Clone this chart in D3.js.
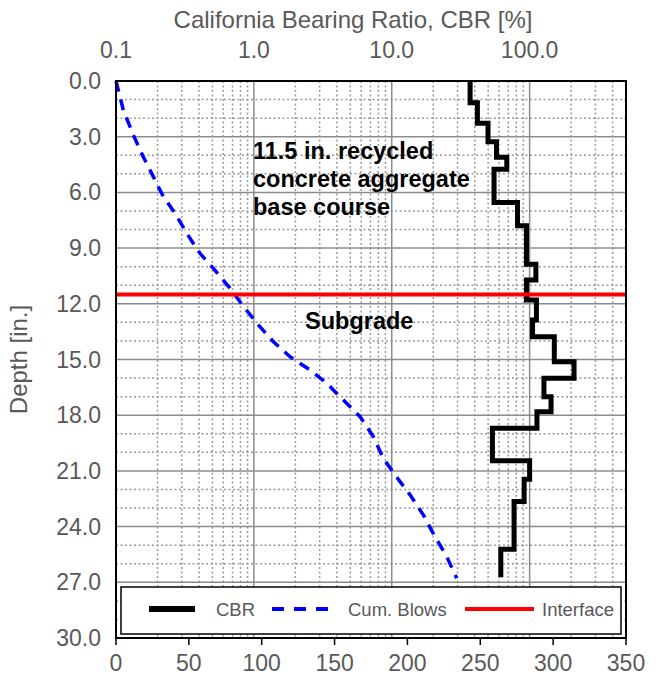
<!DOCTYPE html>
<html>
<head>
<meta charset="utf-8">
<script src="https://cdn.jsdelivr.net/npm/d3@7"></script>
<style>
  body { margin: 0; background: #fff; }
  text { font-family: "Liberation Sans", Arial, sans-serif; }
</style>
</head>
<body>
<svg id="chart" width="658" height="682"></svg>
<script>
// CBR profile: one value per penetration layer (top / bottom depth in inches)
var layerTop    = [0, 1.17, 2.28, 3.27, 4.11, 4.75, 6.55, 7.79, 9.87, 10.72, 11.79, 12.87, 13.77, 15.12, 16.01, 17.0, 17.81, 18.70, 20.45, 21.45, 22.65, 25.22];
var layerBottom = [1.17, 2.28, 3.27, 4.11, 4.75, 6.55, 7.79, 9.87, 10.72, 11.79, 12.87, 13.77, 15.12, 16.01, 17.0, 17.81, 18.70, 20.45, 21.45, 22.65, 25.22, 26.73];
var cbrValues   = [37, 41.8, 49.9, 57.5, 68.3, 55.2, 81.7, 94.9, 111, 94.9, 112, 105, 151, 210, 127, 143, 113, 53.7, 100, 91.2, 77.1, 61.8];

// cumulative blows vs depth
var blowDepths = [0, 1.56, 2.91, 4.08, 5.15, 6.23, 7.12, 8.2, 9.28, 10.09, 11.16, 12.24, 13.14, 14.04, 14.85, 15.56, 16.28, 17.36, 18.08, 19.15, 20.32, 21.22, 22.29, 23.37, 24.54, 25.62, 26.78];
var blowCounts = [0, 5.0, 11.9, 18.7, 25.6, 32.5, 40.5, 48.5, 57.6, 66.8, 78.2, 88.5, 97.7, 108, 119.4, 133.1, 144.6, 158.3, 167.5, 176.6, 183.4, 191.5, 201.8, 210.9, 218.9, 227, 233.8];

var interfaceDepth = 11.5;

var depthTicks = [0, 3, 6, 9, 12, 15, 18, 21, 24, 27, 30];
var blowTicks = [0, 50, 100, 150, 200, 250, 300, 350];
var cbrTicks = [0.1, 1, 10, 100];
var legendLabels = ['CBR', 'Cum. Blows', 'Interface'];

var svg = d3.select('#chart');
var plotL = 116, plotR = 626, plotT = 81, plotB = 638;
var grey = '#595959';

var y = d3.scaleLinear().domain([0, 30]).range([plotT, plotB]);
var xBlows = d3.scaleLinear().domain([0, 350]).range([plotL, plotR]);
var xCbr = d3.scaleLog().domain([0.1, 500]).range([plotL, plotR]);

// minor grid
var minorCbr = [];
[0.1, 1, 10, 100].forEach(function (dec) {
    for (var k = 2; k <= 9; k++) {
        if (dec * k < 500) minorCbr.push(dec * k);
    }
});
var minorDepth = d3.range(1, 30).filter(function (d) { return d % 3 !== 0; });

var grid = svg.append('g');
grid.selectAll('.vminor').data(minorCbr).enter().append('line')
    .attr('x1', function (d) { return xCbr(d); }).attr('x2', function (d) { return xCbr(d); })
    .attr('y1', plotT).attr('y2', plotB)
    .attr('stroke', '#9a9a9a').attr('stroke-width', 1.5).attr('stroke-dasharray', '2,2.5');
grid.selectAll('.hminor').data(minorDepth).enter().append('line')
    .attr('y1', function (d) { return y(d); }).attr('y2', function (d) { return y(d); })
    .attr('x1', plotL).attr('x2', plotR)
    .attr('stroke', '#9a9a9a').attr('stroke-width', 1.5).attr('stroke-dasharray', '2,2.5');
grid.selectAll('.vmajor').data([1, 10, 100]).enter().append('line')
    .attr('x1', function (d) { return xCbr(d); }).attr('x2', function (d) { return xCbr(d); })
    .attr('y1', plotT).attr('y2', plotB)
    .attr('stroke', '#8c8c8c').attr('stroke-width', 1.5);
grid.selectAll('.hmajor').data(depthTicks.slice(1, -1)).enter().append('line')
    .attr('y1', function (d) { return y(d); }).attr('y2', function (d) { return y(d); })
    .attr('x1', plotL).attr('x2', plotR)
    .attr('stroke', '#8c8c8c').attr('stroke-width', 1.5);

// cumulative blows
var blowPts = blowDepths.map(function (d, i) { return [blowCounts[i], d]; });
svg.append('path')
    .attr('d', d3.line().x(function (p) { return xBlows(p[0]); }).y(function (p) { return y(p[1]); })(blowPts))
    .attr('fill', 'none').attr('stroke', '#0000ff').attr('stroke-width', 3.5)
    .attr('stroke-dasharray', '11,8');

// CBR step profile
var cbrPts = [];
cbrValues.forEach(function (v, i) {
    cbrPts.push([v, layerTop[i]]);
    cbrPts.push([v, layerBottom[i]]);
});
svg.append('path')
    .attr('d', d3.line().x(function (p) { return xCbr(p[0]); }).y(function (p) { return y(p[1]); })(cbrPts))
    .attr('fill', 'none').attr('stroke', '#000').attr('stroke-width', 5)
    .attr('stroke-linejoin', 'miter');

// interface
svg.append('line')
    .attr('x1', plotL).attr('x2', plotR)
    .attr('y1', y(interfaceDepth)).attr('y2', y(interfaceDepth))
    .attr('stroke', '#ff0000').attr('stroke-width', 4);

// plot border
svg.append('rect')
    .attr('x', plotL).attr('y', plotT).attr('width', plotR - plotL).attr('height', plotB - plotT)
    .attr('fill', 'none').attr('stroke', '#000').attr('stroke-width', 2);

// bottom axis ticks + labels
svg.selectAll('.bt').data(blowTicks).enter().append('line')
    .attr('x1', function (d) { return xBlows(d); }).attr('x2', function (d) { return xBlows(d); })
    .attr('y1', plotB).attr('y2', plotB + 7)
    .attr('stroke', '#000').attr('stroke-width', 1.5);
svg.selectAll('.bl').data(blowTicks).enter().append('text')
    .attr('x', function (d) { return xBlows(d); }).attr('y', 671)
    .attr('text-anchor', 'middle').attr('font-size', 23).attr('fill', grey)
    .text(function (d) { return d; });

// top log axis labels
svg.selectAll('.tl').data(cbrTicks).enter().append('text')
    .attr('x', function (d) { return xCbr(d); }).attr('y', 58)
    .attr('text-anchor', 'middle').attr('font-size', 23).attr('fill', grey)
    .text(function (d) { return d3.format('.1f')(d); });

// left depth labels
svg.selectAll('.ll').data(depthTicks).enter().append('text')
    .attr('x', 101).attr('y', function (d) { return y(d) + 8; })
    .attr('text-anchor', 'end').attr('font-size', 23).attr('fill', grey)
    .text(function (d) { return d3.format('.1f')(d); });

// axis titles
svg.append('text')
    .attr('x', 353).attr('y', 28)
    .attr('text-anchor', 'middle').attr('font-size', 24).attr('fill', grey)
    .text('California Bearing Ratio, CBR [%]');
svg.append('text')
    .attr('transform', 'translate(27,' + ((plotT + plotB) / 2) + ') rotate(-90)')
    .attr('text-anchor', 'middle').attr('font-size', 24).attr('fill', grey)
    .text('Depth [in.]');

// annotations
var note = svg.append('text')
    .attr('font-size', 23.5).attr('font-weight', 'bold').attr('fill', '#000');
['11.5 in. recycled', 'concrete aggregate', 'base course'].forEach(function (s, i) {
    note.append('tspan').attr('x', 253).attr('y', 159 + i * 28).text(s);
});
svg.append('text')
    .attr('x', 305).attr('y', 329)
    .attr('font-size', 23.5).attr('font-weight', 'bold').attr('fill', '#000')
    .text('Subgrade');

// legend
var legend = svg.append('g');
legend.append('rect')
    .attr('x', 121).attr('y', 587).attr('width', 500).attr('height', 47)
    .attr('fill', '#fff').attr('stroke', '#000').attr('stroke-width', 1.5);
var ly = 609;
var legendStyles = [
    { x1: 149, x2: 195, tx: 216, color: '#000', w: 6, dash: null },
    { x1: 272, x2: 330, tx: 348, color: '#0000ff', w: 4, dash: '12,10' },
    { x1: 465, x2: 534, tx: 542, color: '#ff0000', w: 4, dash: null }
];
legendLabels.forEach(function (label, i) {
    var s = legendStyles[i];
    legend.append('line')
        .attr('x1', s.x1).attr('x2', s.x2).attr('y1', ly).attr('y2', ly)
        .attr('stroke', s.color).attr('stroke-width', s.w)
        .attr('stroke-dasharray', s.dash);
    legend.append('text')
        .attr('x', s.tx).attr('y', ly + 7)
        .attr('font-size', 18.5).attr('fill', grey)
        .text(label);
});
</script>
</body>
</html>
